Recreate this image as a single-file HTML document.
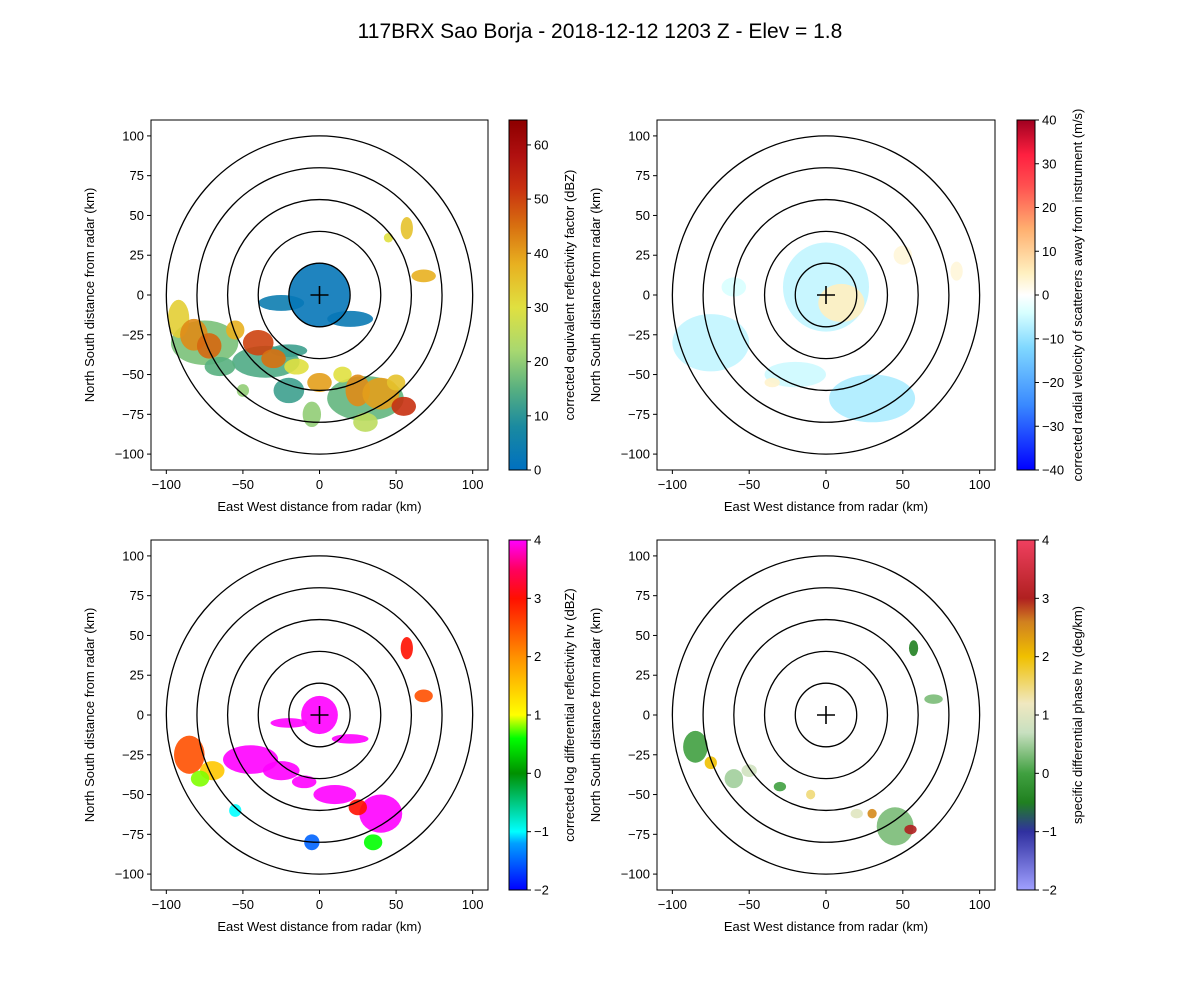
<!DOCTYPE html>
<html><head><meta charset="utf-8">
<style>
body{margin:0;background:#fff;font-family:"Liberation Sans","DejaVu Sans",sans-serif;}
svg text{font-family:"Liberation Sans","DejaVu Sans",sans-serif;}
</style></head>
<body>
<svg id="fig" width="1200" height="1000" viewBox="0 0 1200 1000" xmlns="http://www.w3.org/2000/svg">
<rect width="1200" height="1000" fill="#fff"/>
<text x="600" y="38" text-anchor="middle" font-size="21">117BRX Sao Borja - 2018-12-12 1203 Z -  Elev = 1.8</text>
</svg>
<script>
// ---- data ----
const xTicks=[-100,-50,0,50,100];
const yTicks=[-100,-75,-50,-25,0,25,50,75,100];
const rings=[20,40,60,80,100];
// blobs: [x km, y km, rx km, ry km, value]
const reflBlobs=[[-75,-30,22,14,18],[-35,-42,22,10,14],[30,-65,25,14,16],[-20,-60,10,8,12],[-65,-45,10,6,15],[-20,-35,12,4,12],[-92,-15,7,12,33],[-82,-25,9,10,42],[-72,-32,8,8,46],[-55,-22,6,6,38],[-40,-30,10,8,50],[-30,-40,8,6,45],[-15,-45,8,5,30],[0,-55,8,6,40],[15,-50,6,5,30],[25,-60,8,10,42],[40,-62,12,10,40],[55,-70,8,6,52],[50,-55,6,5,35],[-50,-60,4,4,20],[-5,-75,6,8,20],[30,-80,8,6,25],[57,42,4,7,35],[68,12,8,4,38],[45,36,3,3,30],[-25,-5,15,5,4],[20,-15,15,5,3],[0,0,20,20,2]];
const velBlobs=[[0,5,28,28,-6],[10,-5,15,12,5],[-75,-30,25,18,-6],[30,-65,28,15,-8],[-20,-50,20,8,-5],[-60,5,8,6,-4],[50,25,6,6,3],[85,15,4,6,3],[-35,-55,5,3,4]];
const zdrBlobs=[[-85,-25,10,12,2.5],[-70,-35,8,6,1.5],[-78,-40,6,5,0.8],[-45,-28,18,9,4],[-25,-35,12,6,4],[-10,-42,8,4,4],[10,-50,14,6,4],[40,-62,14,12,4],[25,-58,6,5,3],[35,-80,6,5,0.6],[-55,-60,4,4,-1],[-5,-80,5,5,-1.5],[57,42,4,7,3],[68,12,6,4,2.5],[0,0,12,12,4],[-20,-5,12,3,4],[20,-15,12,3,4]];
const kdpBlobs=[[-85,-20,8,10,0],[-60,-40,6,6,0.5],[45,-70,12,12,0.3],[-30,-45,4,3,0],[-75,-30,4,4,2],[30,-62,3,3,2.5],[55,-72,4,3,3],[20,-62,4,3,1],[-50,-35,5,4,0.8],[57,42,3,5,-0.5],[70,10,6,3,0.3],[-10,-50,3,3,1.5]];
// colormaps: [value, color]
const cmRefl=[[0,'#0070c0'],[8,'#1a8aa0'],[15,'#58b080'],[22,'#a8d870'],[30,'#e0e040'],[38,'#e8b020'],[45,'#d87010'],[52,'#c83010'],[58,'#b01010'],[64,'#900000']];
const cmVel=[[-40,'#0000ff'],[-25,'#3a8aff'],[-12,'#80d8ff'],[-4,'#d8ffff'],[0,'#ffffff'],[5,'#fff0c0'],[15,'#ffb070'],[25,'#ff5050'],[32,'#ff2040'],[40,'#a00020']];
const cmZdr=[[-2,'#0000ff'],[-1.2,'#00a0ff'],[-1,'#00ffff'],[0,'#009000'],[0.6,'#00ff00'],[1,'#ffff00'],[2,'#ff9000'],[3,'#ff1000'],[3.5,'#ff0060'],[4,'#ff00ff']];
const cmKdp=[[-2,'#a0a0ff'],[-1,'#3030a0'],[-0.5,'#208020'],[0,'#40a040'],[0.7,'#c8e0c0'],[1.2,'#f0e8c0'],[2,'#f0c000'],[2.6,'#d08020'],[3,'#b02020'],[4,'#f04060']];

const NS='http://www.w3.org/2000/svg';
const svg=document.getElementById('fig');
function mk(tag,attrs,parent){const e=document.createElementNS(NS,tag);for(const k in attrs)e.setAttribute(k,attrs[k]);(parent||svg).appendChild(e);return e;}
function hex(c){return [1,3,5].map(i=>parseInt(c.substr(i,2),16));}
function cmap(cm,v){if(v<=cm[0][0])return cm[0][1];for(let i=1;i<cm.length;i++){if(v<=cm[i][0]){const t=(v-cm[i-1][0])/(cm[i][0]-cm[i-1][0]);const a=hex(cm[i-1][1]),b=hex(cm[i][1]);return 'rgb('+a.map((x,j)=>Math.round(x+(b[j]-x)*t)).join(',')+')';}}return cm[cm.length-1][1];}

function panel(id,ax,cb,blobs,cm,vmin,vmax,cbTicks,cbLabel){
  const g=mk('g',{});
  
  
  const [L,T,W,H]=ax;
  const sx=v=>L+(v+110)/220*W, sy=v=>T+(110-v)/220*H;
  const kx=W/220, ky=H/220;
  const clipId='clip-'+id;
  const cp=mk('clipPath',{id:clipId},g);mk('rect',{x:L,y:T,width:W,height:H},cp);
  const dg=mk('g',{'clip-path':'url(#'+clipId+')'},g);
  
  
  blobs.forEach(b=>{
    const e=mk('ellipse',{cx:sx(b[0]),cy:sy(b[1]),rx:b[2]*kx,ry:b[3]*ky,fill:cmap(cm,b[4]),opacity:0.9},dg);
    
    
  });
  rings.forEach(r=>{
    const c=mk('ellipse',{cx:sx(0),cy:sy(0),rx:r*kx,ry:r*ky,fill:'none',stroke:'#000','stroke-width':1.3},g);
    
    
  });
  mk('line',{x1:sx(0)-9,x2:sx(0)+9,y1:sy(0),y2:sy(0),stroke:'#000','stroke-width':1.6},g);
  mk('line',{x1:sx(0),x2:sx(0),y1:sy(0)-9,y2:sy(0)+9,stroke:'#000','stroke-width':1.6},g);
  const fr=mk('rect',{x:L,y:T,width:W,height:H,fill:'none',stroke:'#000','stroke-width':1},g);
  
  
  xTicks.forEach(t=>{mk('line',{x1:sx(t),x2:sx(t),y1:T+H,y2:T+H+4,stroke:'#000'},g);
    const tx=mk('text',{x:sx(t),y:T+H+19,'text-anchor':'middle','font-size':13},g);tx.textContent=(t<0?'\u2212':'')+Math.abs(t);
    });
  yTicks.forEach(t=>{mk('line',{x1:L-4,x2:L,y1:sy(t),y2:sy(t),stroke:'#000'},g);
    const tx=mk('text',{x:L-7,y:sy(t)+4.5,'text-anchor':'end','font-size':13},g);tx.textContent=(t<0?'\u2212':'')+Math.abs(t);
    });
  const xl=mk('text',{x:L+W/2,y:T+H+41,'text-anchor':'middle','font-size':13},g);xl.textContent='East West distance from radar (km)';
  
  const yl=mk('text',{x:0,y:0,'text-anchor':'middle','font-size':13,transform:'translate('+(L-57)+','+(T+H/2)+') rotate(-90)'},g);yl.textContent='North South distance from radar (km)';
  
  const [cL,cW]=cb;
  const gid='grad-'+id;
  const lg=mk('linearGradient',{id:gid,x1:0,y1:1,x2:0,y2:0},g);
  cm.forEach(s=>mk('stop',{offset:(s[0]-vmin)/(vmax-vmin),'stop-color':s[1]},lg));
  const cr=mk('rect',{x:cL,y:T,width:cW,height:H,fill:'url(#'+gid+')',stroke:'#000','stroke-width':1},g);
  
  
  const cy=v=>T+H-(v-vmin)/(vmax-vmin)*H;
  cbTicks.forEach(t=>{mk('line',{x1:cL+cW,x2:cL+cW+4,y1:cy(t),y2:cy(t),stroke:'#000'},g);
    const tx=mk('text',{x:cL+cW+7,y:cy(t)+4.5,'font-size':13},g);tx.textContent=(t<0?'\u2212':'')+Math.abs(t);
    });
  const cl=mk('text',{x:0,y:0,'text-anchor':'middle','font-size':13,transform:'translate('+(cL+cW+47)+','+(T+H/2)+') rotate(-90)'},g);cl.textContent=cbLabel;
  
}
panel('reflectivity',[151,120,337,350],[509,18],reflBlobs,cmRefl,0,64.6,[0,10,20,30,40,50,60],'corrected equivalent reflectivity factor (dBZ)');
panel('velocity',[657,120,338,350],[1017,18],velBlobs,cmVel,-40,40,[-40,-30,-20,-10,0,10,20,30,40],'corrected radial velocity of scatterers away from instrument (m/s)');
panel('zdr',[151,540,337,350],[509,18],zdrBlobs,cmZdr,-2,4,[-2,-1,0,1,2,3,4],'corrected log differential reflectivity hv (dBZ)');
panel('kdp',[657,540,338,350],[1017,18],kdpBlobs,cmKdp,-2,4,[-2,-1,0,1,2,3,4],'specific differential phase hv (deg/km)');
</script>
</body></html>
